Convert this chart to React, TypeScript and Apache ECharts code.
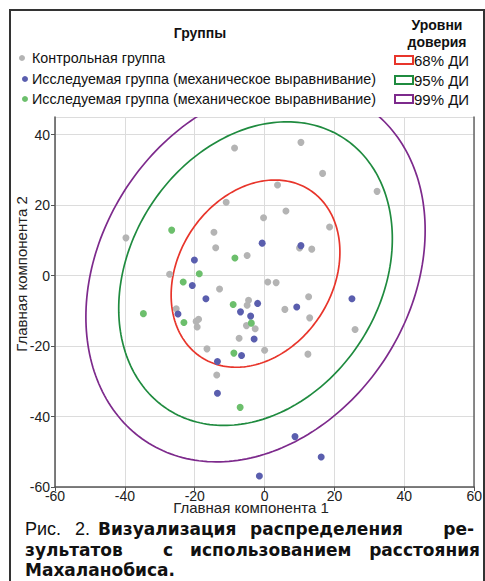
import React, { useEffect, useRef } from "react";
import * as echarts from "echarts";

// Контрольная группа
const controlGroup: [number, number][] = [
  [-8.6, 36.2], [10.4, 37.8], [16.6, 29.0], [3.7, 25.7], [32.2, 23.9],
  [-11.0, 20.8], [6.1, 18.3], [-0.3, 16.4], [18.6, 13.8], [-14.5, 12.3],
  [-39.7, 10.7], [-14.0, 7.9], [-5.0, 5.7], [-27.2, 0.4], [-12.9, -3.8],
  [10.0, 7.8], [13.5, 7.5], [0.9, -1.8], [3.3, -2.0], [12.6, -6.0],
  [5.8, -9.6], [12.9, -12.0], [-4.6, -7.0], [-5.0, -8.4], [-25.3, -9.4],
  [-19.6, -13.0], [-18.9, -12.4], [-19.3, -14.6], [-5.2, -14.2], [-2.7, -15.1],
  [-7.3, -17.8], [-16.5, -20.8], [0.0, -21.2], [-13.7, -28.2], [25.9, -15.3],
  [12.4, -22.3],
];

// Исследуемая группа (синие точки)
const studyGroupBlue: [number, number][] = [
  [-20.1, 4.4], [-20.7, -2.8], [-16.8, -6.6], [-0.7, 9.2], [10.4, 8.5],
  [-2.0, -7.9], [-6.9, -10.3], [-4.0, -11.5], [-24.8, -10.9], [25.0, -6.6],
  [9.2, -8.9], [-3.0, -18.0], [-6.6, -22.7], [-13.5, -24.4], [-13.5, -33.4],
  [8.7, -45.7], [16.2, -51.5], [-1.5, -56.9],
];

// Исследуемая группа (зелёные точки)
const studyGroupGreen: [number, number][] = [
  [-26.6, 12.9], [-8.5, 5.0], [-18.7, 0.5], [-23.3, -1.8], [-9.0, -8.2],
  [-23.1, -13.3], [-3.8, -13.5], [-8.8, -22.0], [-7.0, -37.4], [-34.7, -10.8],
];

const groupNames = [
  "Контрольная группа",
  "Исследуемая группа (механическое выравнивание)",
  "Исследуемая группа (механическое выравнивание)",
];
const groupColors = ["#b4b4b4", "#5a5eae", "#6cbf6c"];

// Mahalanobis ellipse parameters
const ellipseCenter: [number, number] = [-2.6, 0.55];
const ellipseSd: [number, number] = [16.0, 17.6];
const ellipseCorr = 0.23;
const ciLabels = ["68% ДИ", "95% ДИ", "99% ДИ"];
const ciChiSquare = [2.279, 5.991, 9.21];
const ciColors = ["#e8352b", "#1f8b3f", "#7d2a8c"];

const xMin = -60;
const xMax = 60;
const yMin = -60;
const yMax = 45;
const tickStep = 20;

const FONT = "Liberation Sans, Arial, sans-serif";
const WIDE = "DejaVu Sans, Verdana, sans-serif";

export default function App() {
  const ref = useRef<HTMLDivElement>(null);

  useEffect(() => {
    if (!ref.current) return;
    const chart = echarts.init(ref.current, undefined, { renderer: "svg" });

    const ellipseSeries = ciChiSquare.map((q, idx) => ({
      type: "custom",
      name: ciLabels[idx],
      clip: true,
      z: 2,
      data: [ellipseCenter],
      encode: { x: 0, y: 1 },
      renderItem: (_params: any, api: any) => {
        const r = Math.sqrt(q);
        const [sx, sy] = ellipseSd;
        const rho = ellipseCorr;
        const [cx, cy] = ellipseCenter;
        const pts: number[][] = [];
        const n = 240;
        for (let i = 0; i <= n; i++) {
          const t = (i / n) * Math.PI * 2;
          const u = Math.cos(t);
          const v = Math.sin(t);
          const dx = r * sx * u;
          const dy = r * (rho * sy * u + sy * Math.sqrt(1 - rho * rho) * v);
          pts.push(api.coord([cx + dx, cy + dy]));
        }
        return {
          type: "polyline",
          shape: { points: pts },
          style: { stroke: ciColors[idx], lineWidth: 1.7, fill: null },
        };
      },
    }));

    const groups = [controlGroup, studyGroupBlue, studyGroupGreen];
    const scatterSeries = groups.map((g, i) => ({
      type: "scatter",
      name: groupNames[i],
      data: g,
      symbol: "circle",
      symbolSize: 7,
      z: 3,
      itemStyle: { color: groupColors[i], opacity: 1 },
    }));

    const gfx: any[] = [];
    // Groups legend
    gfx.push({
      type: "text",
      x: 200,
      y: 33,
      style: {
        text: "Группы",
        font: `bold 14px ${FONT}`,
        fill: "#111",
        align: "center",
        verticalAlign: "middle",
      },
    });
    const groupLegendY = [58, 79, 99];
    const groupLegendX = [22, 25, 25];
    groupNames.forEach((name, i) => {
      gfx.push({
        type: "circle",
        shape: { cx: groupLegendX[i], cy: groupLegendY[i], r: 3 },
        style: { fill: groupColors[i] },
      });
      gfx.push({
        type: "text",
        x: 32,
        y: groupLegendY[i],
        style: {
          text: name,
          font: `14.3px ${FONT}`,
          fill: "#111",
          align: "left",
          verticalAlign: "middle",
        },
      });
    });
    // CI legend
    gfx.push({
      type: "text",
      x: 437,
      y: 25,
      style: {
        text: "Уровни",
        font: `bold 14px ${FONT}`,
        fill: "#111",
        align: "center",
        verticalAlign: "middle",
      },
    });
    gfx.push({
      type: "text",
      x: 437,
      y: 42,
      style: {
        text: "доверия",
        font: `bold 14px ${FONT}`,
        fill: "#111",
        align: "center",
        verticalAlign: "middle",
      },
    });
    const ciLegendY = [60, 80, 99];
    ciLabels.forEach((lab, i) => {
      gfx.push({
        type: "rect",
        shape: { x: 395, y: ciLegendY[i] - 4, width: 18, height: 8 },
        style: { fill: "#fff", stroke: ciColors[i], lineWidth: 2 },
      });
      gfx.push({
        type: "text",
        x: 414,
        y: ciLegendY[i],
        style: {
          text: lab,
          font: `15px ${FONT}`,
          fill: "#111",
          align: "left",
          verticalAlign: "middle",
        },
      });
    });

    // Axis names
    gfx.push({
      type: "text",
      x: 251,
      y: 507,
      style: {
        text: "Главная компонента 1",
        font: `15px ${FONT}`,
        fill: "#222",
        align: "center",
        verticalAlign: "middle",
      },
    });
    gfx.push({
      type: "text",
      x: 21,
      y: 274,
      rotation: Math.PI / 2,
      style: {
        text: "Главная компонента 2",
        font: `15px ${FONT}`,
        fill: "#222",
        align: "center",
        verticalAlign: "middle",
      },
    });

    // Caption
    const capBold = `bold 17px ${WIDE}`;
    const capReg = `18px ${FONT}`;
    const captionWords: { t: string; x: number; y: number; f: string; a: string }[] = [
      { t: "Рис.", x: 25, y: 529, f: capReg, a: "left" },
      { t: "2.", x: 75, y: 529, f: capReg, a: "left" },
      { t: "Визуализация", x: 98, y: 529, f: capBold, a: "left" },
      { t: "распределения", x: 250, y: 529, f: capBold, a: "left" },
      { t: "ре-", x: 474, y: 529, f: capBold, a: "right" },
      { t: "зультатов", x: 25, y: 550, f: capBold, a: "left" },
      { t: "с", x: 163, y: 550, f: capBold, a: "left" },
      { t: "использованием", x: 190, y: 550, f: capBold, a: "left" },
      { t: "расстояния", x: 480, y: 550, f: capBold, a: "right" },
      { t: "Махаланобиса.", x: 25, y: 570, f: capBold, a: "left" },
    ];
    captionWords.forEach((w) => {
      gfx.push({
        type: "text",
        x: w.x,
        y: w.y,
        style: {
          text: w.t,
          font: w.f,
          fill: "#111",
          align: w.a,
          verticalAlign: "middle",
        },
      });
    });

    // Outer frame
    gfx.push({
      type: "polyline",
      shape: { points: [[10, 590], [10, 10], [484, 10], [484, 590]] },
      style: { stroke: "#333", lineWidth: 2, fill: null },
    });

    chart.setOption({
      animation: false,
      backgroundColor: "#fff",
      grid: { left: 55, right: 6, top: 117, bottom: 94, containLabel: false },
      xAxis: {
        type: "value",
        min: xMin,
        max: xMax,
        interval: tickStep,
        axisLine: { show: true, onZero: false, lineStyle: { color: "#555", width: 1.5 } },
        axisTick: { show: true, length: 4, lineStyle: { color: "#555" } },
        axisLabel: { fontSize: 14, color: "#222", margin: 2, fontFamily: FONT, lineHeight: 14 },
        splitLine: { show: true, lineStyle: { color: "#dcdcdc", width: 1 } },
      },
      yAxis: [
        {
          type: "value",
          min: yMin,
          max: yMax,
          interval: tickStep,
          axisLine: { show: true, onZero: false, lineStyle: { color: "#555", width: 1.5 } },
          axisTick: { show: true, length: 4, lineStyle: { color: "#555" } },
          axisLabel: {
            fontSize: 14,
            color: "#222",
            margin: 5,
            fontFamily: FONT,
            showMaxLabel: false,
          },
          splitLine: { show: true, lineStyle: { color: "#dcdcdc", width: 1 } },
        },
        {
          type: "value",
          position: "right",
          min: yMin,
          max: yMax,
          interval: tickStep,
          axisLine: { show: true, onZero: false, lineStyle: { color: "#666", width: 1.5 } },
          axisTick: { show: false },
          axisLabel: { show: false },
          splitLine: { show: false },
        },
      ],
      series: [...ellipseSeries, ...scatterSeries],
      graphic: gfx,
    } as any);

    return () => chart.dispose();
  }, []);

  return (
    <div
      ref={ref}
      style={{ position: "fixed", left: 0, top: 0, width: 485, height: 581 }}
    />
  );
}
